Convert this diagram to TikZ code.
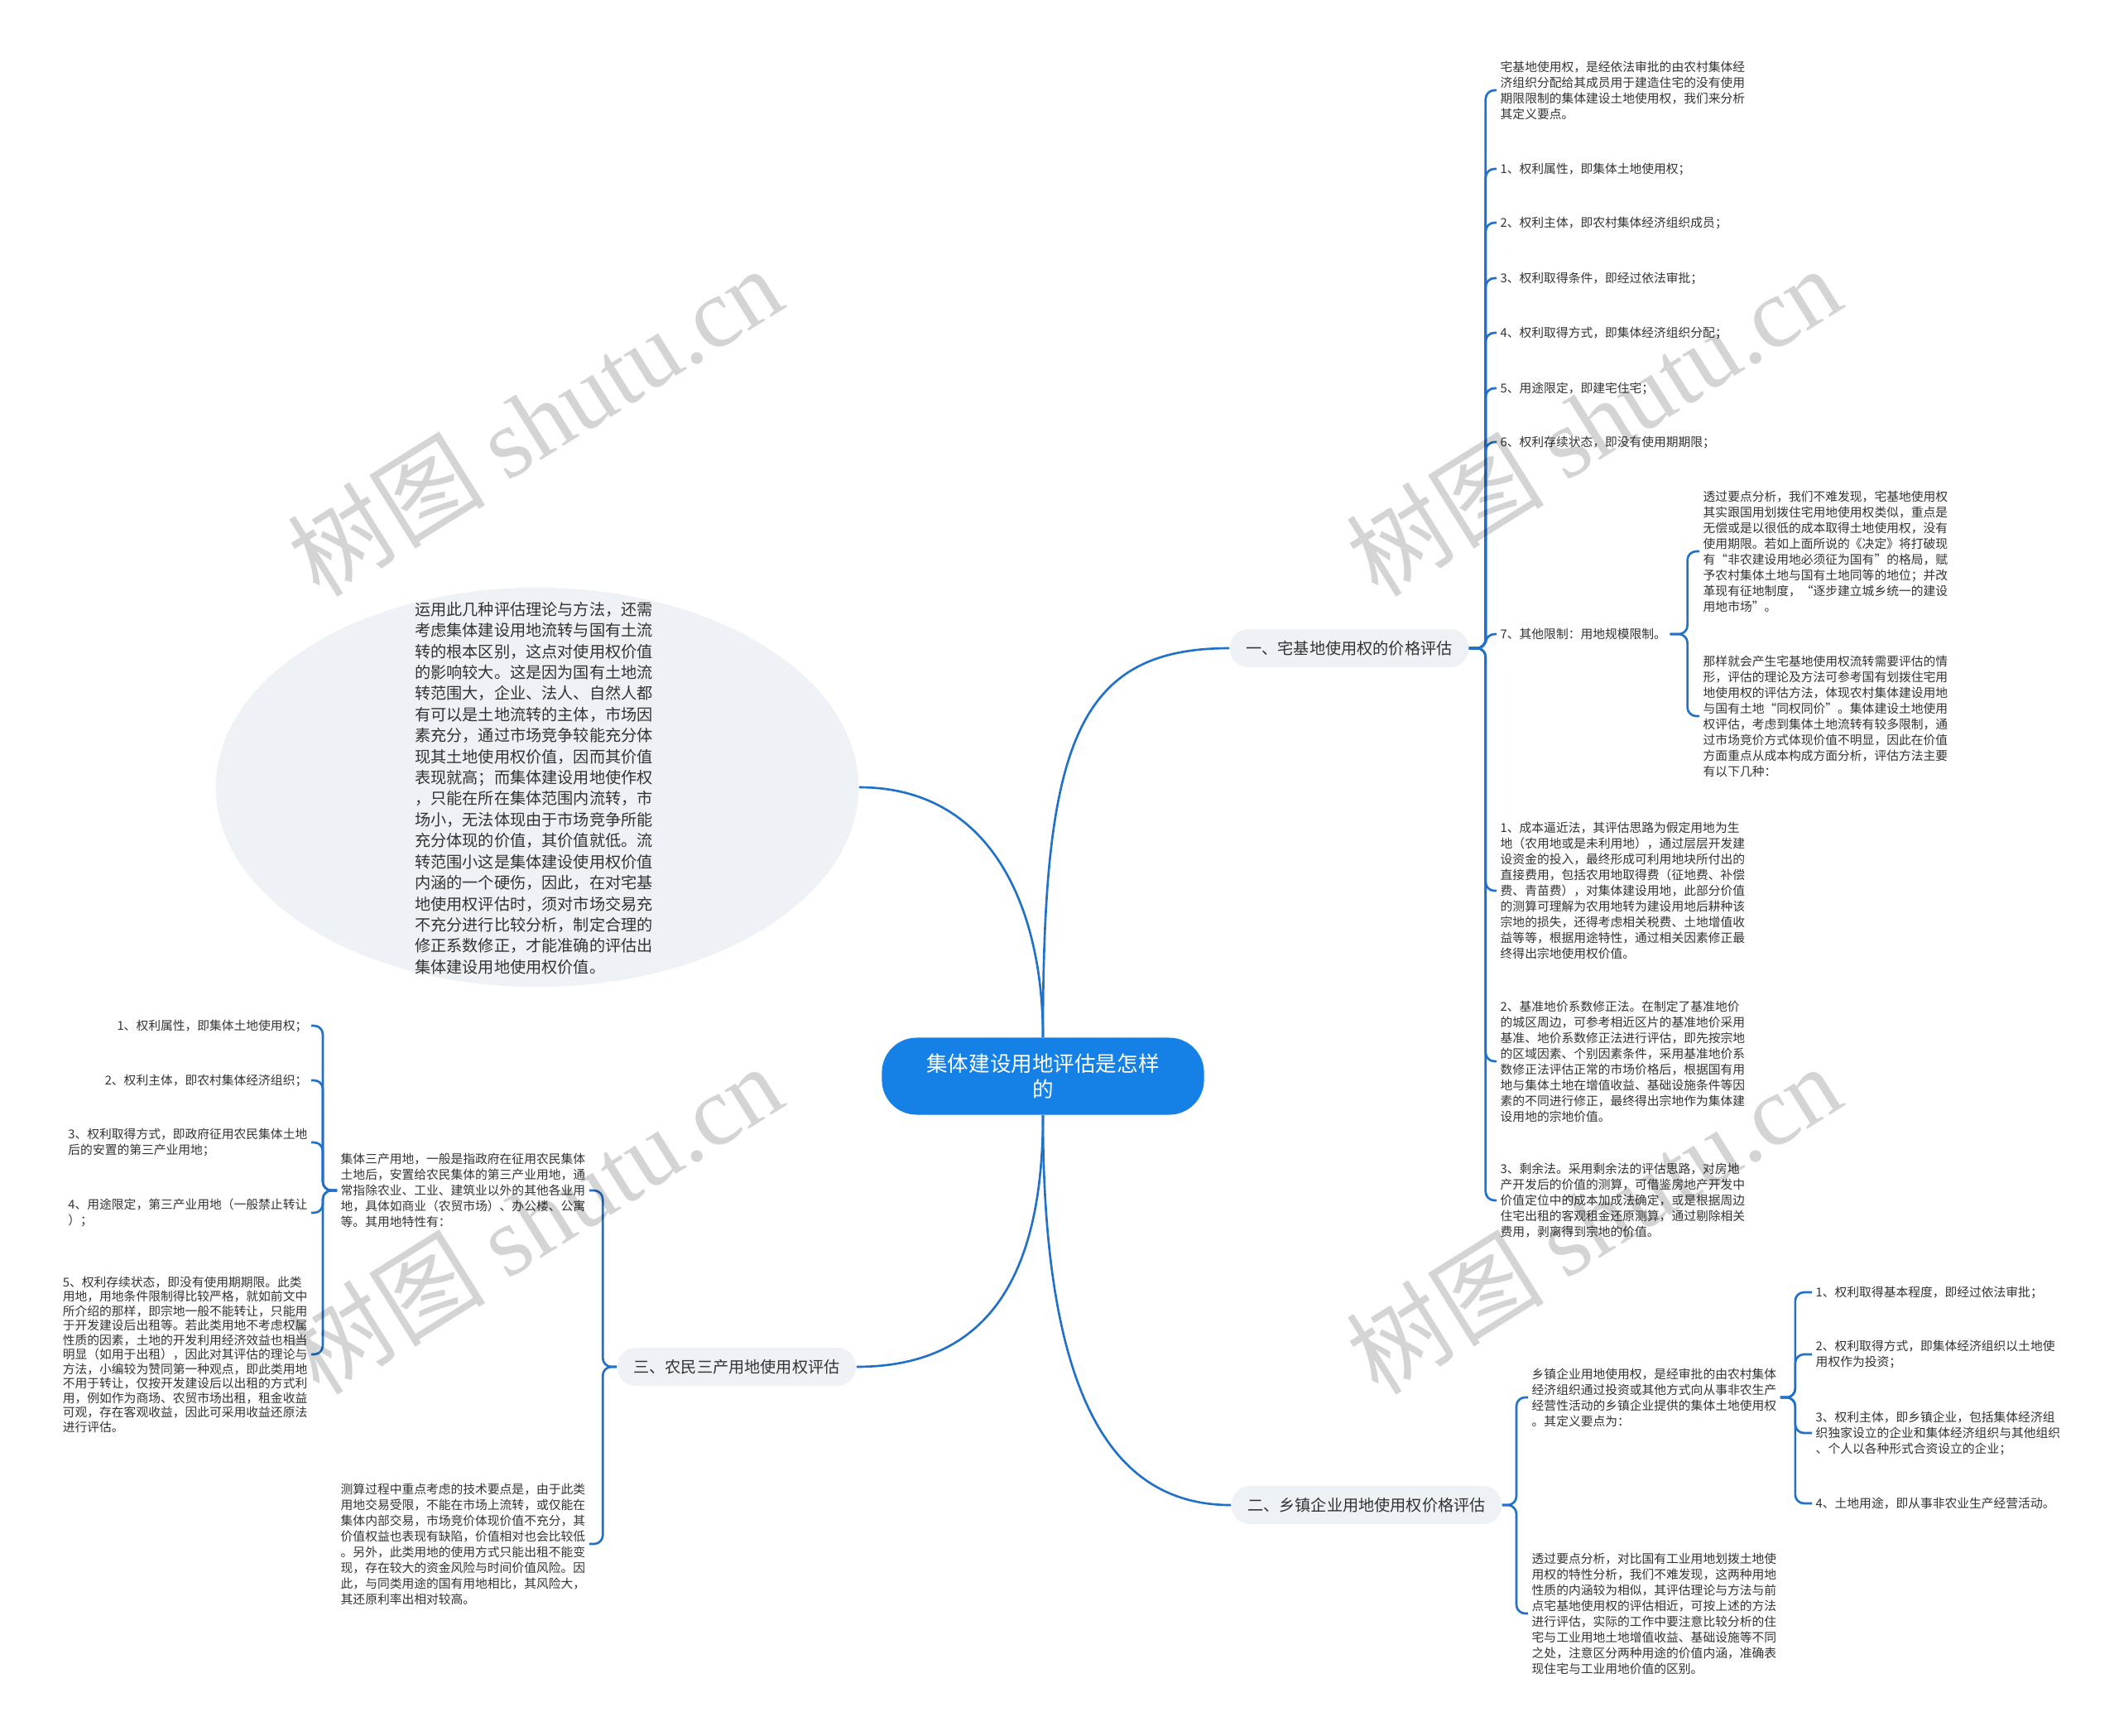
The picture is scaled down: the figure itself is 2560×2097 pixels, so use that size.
\documentclass[tikz,border=0pt]{standalone}
\usepackage{fontspec}
\setmainfont{Noto Sans CJK SC}
\newfontfamily\wmfont{Liberation Serif}
\usepackage{tikz}
\usetikzlibrary{calc, shapes.geometric}
\definecolor{rootblue}{HTML}{1580E6}
\definecolor{linkblue}{HTML}{2271C9}
\definecolor{topicgray}{HTML}{EEF1F5}
\definecolor{inkgray}{HTML}{333333}
\newcommand{\linkright}[3]{\draw[link] (#1.east) -- ++(#3,0) |- (#2.west);}
\newcommand{\linkleft}[3]{\draw[link] (#1.west) -- ++(-#3,0) |- (#2.east);}
\tikzset{
  link/.style={draw=linkblue, line width=0.75pt, rounded corners=3pt},
  leaf/.style={font=\fontsize{4.2}{5.41}\selectfont, text=inkgray, align=left, inner xsep=0.04cm, inner ysep=0.02cm},
  topic/.style={fill=topicgray, rounded corners=0.22cm, minimum height=0.46cm, inner xsep=0.195cm, font=\fontsize{5.45}{6.5}\selectfont, text=inkgray},
  rootnode/.style={fill=rootblue, rounded corners=0.42cm, minimum width=3.89cm, minimum height=0.93cm, font=\fontsize{7.27}{8.8}\selectfont, text=white, align=center},
  wmark/.style={text=black, opacity=0.17, font=\fontsize{34}{34}\selectfont, rotate=32},
}

\begin{document}
\begin{tikzpicture}[x=0.01cm, y=-0.01cm]
  \fill[white] (0,0) rectangle (2560,2097);
  \useasboundingbox (0,0) rectangle (2560,2097);

  % centre, main topics and the note
  \node[rootnode] (root) at (1260,1300) {集体建设用地评估是怎样\\的};
  \node[topic] (homestead) at (1630,783) {一、宅基地使用权的价格评估};
  \node[topic] (township) at (1651,1818) {二、乡镇企业用地使用权价格评估};
  \node[topic] (tertiary) at (890,1651) {三、农民三产用地使用权评估};
  \node[ellipse, fill=topicgray, minimum width=7.76cm, minimum height=4.82cm, inner sep=0pt] (note) at (649,951) {};
  \node[leaf, font=\fontsize{5.45}{7.23}\selectfont] (notetext) at (645,952) {运用此几种评估理论与方法，还需\\
    考虑集体建设用地流转与国有土流\\
    转的根本区别，这点对使用权价值\\
    的影响较大。这是因为国有土地流\\
    转范围大，企业、法人、自然人都\\
    有可以是土地流转的主体，市场因\\
    素充分，通过市场竞争较能充分体\\
    现其土地使用权价值，因而其价值\\
    表现就高；而集体建设用地使作权\\
    ，只能在所在集体范围内流转，市\\
    场小，无法体现由于市场竞争所能\\
    充分体现的价值，其价值就低。流\\
    转范围小这是集体建设使用权价值\\
    内涵的一个硬伤，因此，在对宅基\\
    地使用权评估时，须对市场交易充\\
    不充分进行比较分析，制定合理的\\
    修正系数修正，才能准确的评估出\\
    集体建设用地使用权价值。};

  \draw[link] (root.north) .. controls (1260,900) and (1300,783) .. (homestead.west);
  \draw[link] (note.east) .. controls (1200,951) and (1260,1100) .. (root.north);
  \draw[link] (root.south) .. controls (1260,1560) and (1180,1651) .. (tertiary.east);
  \draw[link] (root.south) .. controls (1260,1700) and (1350,1818) .. (township.west);

  % homestead branch
  \node[leaf, anchor=west] (hs0) at (1808,109) {宅基地使用权，是经依法审批的由农村集体经\\
    济组织分配给其成员用于建造住宅的没有使用\\
    期限限制的集体建设土地使用权，我们来分析\\
    其定义要点。};
  \foreach \i/\y/\t in {1/204/权利属性，即集体土地使用权；, 2/269/权利主体，即农村集体经济组织成员；,
      3/336/权利取得条件，即经过依法审批；, 4/402/权利取得方式，即集体经济组织分配；,
      5/469/用途限定，即建宅住宅；, 6/534/权利存续状态，即没有使用期期限；, 7/766/其他限制：用地规模限制。}
    \node[leaf, anchor=west] (hs\i) at (1808,\y) {\i、\t};
  \node[leaf, anchor=west] (hsa) at (2053,666) {透过要点分析，我们不难发现，宅基地使用权\\
    其实跟国用划拨住宅用地使用权类似，重点是\\
    无偿或是以很低的成本取得土地使用权，没有\\
    使用期限。若如上面所说的《决定》将打破现\\
    有“非农建设用地必须征为国有”的格局，赋\\
    予农村集体土地与国有土地同等的地位；并改\\
    革现有征地制度，“逐步建立城乡统一的建设\\
    用地市场”。};
  \node[leaf, anchor=west] (hsb) at (2053,865) {那样就会产生宅基地使用权流转需要评估的情\\
    形，评估的理论及方法可参考国有划拨住宅用\\
    地使用权的评估方法，体现农村集体建设用地\\
    与国有土地“同权同价”。集体建设土地使用\\
    权评估，考虑到集体土地流转有较多限制，通\\
    过市场竞价方式体现价值不明显，因此在价值\\
    方面重点从成本构成方面分析，评估方法主要\\
    有以下几种：};
  \node[leaf, anchor=west] (hsm1) at (1808,1076) {1、成本逼近法，其评估思路为假定用地为生\\
    地（农用地或是未利用地），通过层层开发建\\
    设资金的投入，最终形成可利用地块所付出的\\
    直接费用，包括农用地取得费（征地费、补偿\\
    费、青苗费），对集体建设用地，此部分价值\\
    的测算可理解为农用地转为建设用地后耕种该\\
    宗地的损失，还得考虑相关税费、土地增值收\\
    益等等，根据用途特性，通过相关因素修正最\\
    终得出宗地使用权价值。};
  \node[leaf, anchor=west] (hsm2) at (1808,1282) {2、基准地价系数修正法。在制定了基准地价\\
    的城区周边，可参考相近区片的基准地价采用\\
    基准、地价系数修正法进行评估，即先按宗地\\
    的区域因素、个别因素条件，采用基准地价系\\
    数修正法评估正常的市场价格后，根据国有用\\
    地与集体土地在增值收益、基础设施条件等因\\
    素的不同进行修正，最终得出宗地作为集体建\\
    设用地的宗地价值。};
  \node[leaf, anchor=west] (hsm3) at (1808,1450) {3、剩余法。采用剩余法的评估思路，对房地\\
    产开发后的价值的测算，可借鉴房地产开发中\\
    价值定位中的成本加成法确定，或是根据周边\\
    住宅出租的客观租金还原测算，通过剔除相关\\
    费用，剥离得到宗地的价值。};
  \foreach \c in {hs0,hs1,hs2,hs3,hs4,hs5,hs6,hs7,hsm1,hsm2,hsm3}
    {\linkright{homestead}{\c}{20}}
  \linkright{hs7}{hsa}{21}
  \linkright{hs7}{hsb}{21}

  % township enterprise branch
  \node[leaf, anchor=west] (tw0) at (1846,1688) {乡镇企业用地使用权，是经审批的由农村集体\\
    经济组织通过投资或其他方式向从事非农生产\\
    经营性活动的乡镇企业提供的集体土地使用权\\
    。其定义要点为：};
  \node[leaf, anchor=west] (twx) at (1846,1949) {透过要点分析，对比国有工业用地划拨土地使\\
    用权的特性分析，我们不难发现，这两种用地\\
    性质的内涵较为相似，其评估理论与方法与前\\
    点宅基地使用权的评估相近，可按上述的方法\\
    进行评估，实际的工作中要注意比较分析的住\\
    宅与工业用地土地增值收益、基础设施等不同\\
    之处，注意区分两种用途的价值内涵，准确表\\
    现住宅与工业用地价值的区别。};
  \node[leaf, anchor=west] (tw1) at (2189,1561) {1、权利取得基本程度，即经过依法审批；};
  \node[leaf, anchor=west] (tw2) at (2189,1636) {2、权利取得方式，即集体经济组织以土地使\\用权作为投资；};
  \node[leaf, anchor=west] (tw3) at (2189,1731) {3、权利主体，即乡镇企业，包括集体经济组\\
    织独家设立的企业和集体经济组织与其他组织\\
    、个人以各种形式合资设立的企业；};
  \node[leaf, anchor=west] (tw4) at (2189,1816) {4、土地用途，即从事非农业生产经营活动。};
  \linkright{township}{tw0}{17}
  \linkright{township}{twx}{17}
  \foreach \i in {1,...,4}
    {\linkright{tw0}{tw\i}{18}}

  % tertiary land branch
  \node[leaf, anchor=west] (tt0) at (407,1438) {集体三产用地，一般是指政府在征用农民集体\\
    土地后，安置给农民集体的第三产业用地，通\\
    常指除农业、工业、建筑业以外的其他各业用\\
    地，具体如商业（农贸市场）、办公楼、公寓\\
    等。其用地特性有：};
  \node[leaf, anchor=west] (ttx) at (407,1865) {测算过程中重点考虑的技术要点是，由于此类\\
    用地交易受限，不能在市场上流转，或仅能在\\
    集体内部交易，市场竞价体现价值不充分，其\\
    价值权益也表现有缺陷，价值相对也会比较低\\
    。另外，此类用地的使用方式只能出租不能变\\
    现，存在较大的资金风险与时间价值风险。因\\
    此，与同类用途的国有用地相比，其风险大，\\
    其还原利率出相对较高。};
  \node[leaf, anchor=east] (tt1) at (376,1239) {1、权利属性，即集体土地使用权；};
  \node[leaf, anchor=east] (tt2) at (376,1305) {2、权利主体，即农村集体经济组织；};
  \node[leaf, anchor=east] (tt3) at (376,1380) {3、权利取得方式，即政府征用农民集体土地\\后的安置的第三产业用地；};
  \node[leaf, anchor=east] (tt4) at (376,1465) {4、用途限定，第三产业用地（一般禁止转让\\）；};
  \node[leaf, anchor=east, font=\fontsize{4.2}{4.98}\selectfont] (tt5) at (376,1636) {5、权利存续状态，即没有使用期期限。此类\\
    用地，用地条件限制得比较严格，就如前文中\\
    所介绍的那样，即宗地一般不能转让，只能用\\
    于开发建设后出租等。若此类用地不考虑权属\\
    性质的因素，土地的开发利用经济效益也相当\\
    明显（如用于出租），因此对其评估的理论与\\
    方法，小编较为赞同第一种观点，即此类用地\\
    不用于转让，仅按开发建设后以出租的方式利\\
    用，例如作为商场、农贸市场出租，租金收益\\
    可观，存在客观收益，因此可采用收益还原法\\
    进行评估。};
  \linkleft{tertiary}{tt0}{17}
  \linkleft{tertiary}{ttx}{17}
  \foreach \i in {1,...,5}
    {\linkleft{tt0}{tt\i}{17}}

  % watermarks
  \foreach \n/\x/\y in {1/646/508, 2/1925/508, 3/646/1472, 4/1925/1472}
    \node[wmark] (wm\n) at (\x,\y) {树图 {\wmfont shutu.cn}};
\end{tikzpicture}
\end{document}
